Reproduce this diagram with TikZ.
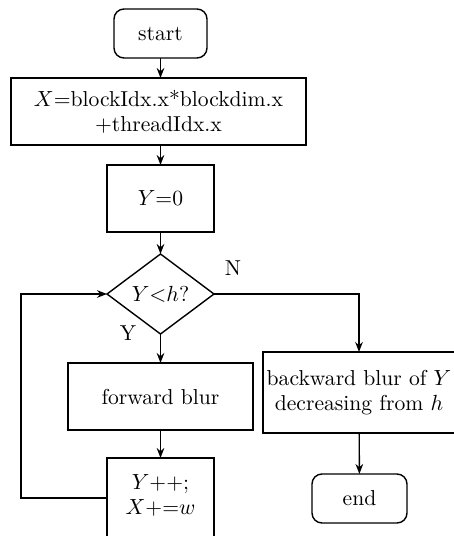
\documentclass[tikz,border=0pt]{standalone}
\usetikzlibrary{arrows.meta,shapes.geometric}
\begin{document}
\begin{tikzpicture}[x=0.5pt,y=-0.5pt,
  font=\fontsize{10.8}{12.5}\selectfont,
  every node/.style={inner sep=0pt,outer sep=0pt},
  box/.style={draw,line width=0.7pt,align=center},
  term/.style={box,rounded corners=5pt},
  dec/.style={draw,line width=0.7pt,diamond,shape aspect=1.34},
  arr/.style={draw,line width=0.7pt,-{Stealth[length=5pt,width=3.8pt]}},
  lbl/.style={font=\fontsize{10.8}{12.5}\selectfont}]
\useasboundingbox (0,0) rectangle (454,536);
\clip (0,0) rectangle (454,536);
\node[term,minimum width=46.5pt,minimum height=24.5pt] (start) at (160.5,33.5) {start};
\node[box,minimum width=147.5pt,minimum height=33.5pt] (xb) at (158.5,111.5) {$X$=blockIdx.x*blockdim.x\\+threadIdx.x};
\node[box,minimum width=53.5pt,minimum height=33.5pt] (y0) at (160.5,198.5) {$Y$=0};
\node[dec,minimum width=53.5pt,minimum height=40pt] (dia) at (160.5,294) {$Y{<}h$?};
\node[box,minimum width=92.5pt,minimum height=33.5pt] (fwd) at (160.5,396.5) {forward blur};
\node[box,minimum width=53.5pt,minimum height=40pt] (inc) at (160.5,498) {};
\node[align=center] (inct) at (160.5,495) {$Y$++;\\$X$+=$w$};
\node[box,minimum width=96pt,minimum height=40.5pt] (back) at (359,392.5) {backward blur of $Y$\\decreasing from $h$};
\node[term,minimum width=47.5pt,minimum height=24.5pt] (end) at (359.5,498.5) {end};
\node[lbl] (nl) at (233,268) {N};
\node[lbl] (yl) at (128,333) {Y};
\coordinate (lp) at (21,498);
\path[arr] (start) -- (start |- xb.north);
\path[arr] (xb.south -| y0) -- (y0);
\path[arr] (y0) -- (dia);
\path[arr] (dia) -- (fwd);
\path[arr] (fwd) -- (inc);
\path[arr] (dia.east) -| (back.north);
\path[arr] (back) -- (end);
\path[arr] (inc.west) -- (lp) |- (dia.west);
\end{tikzpicture}
\end{document}
